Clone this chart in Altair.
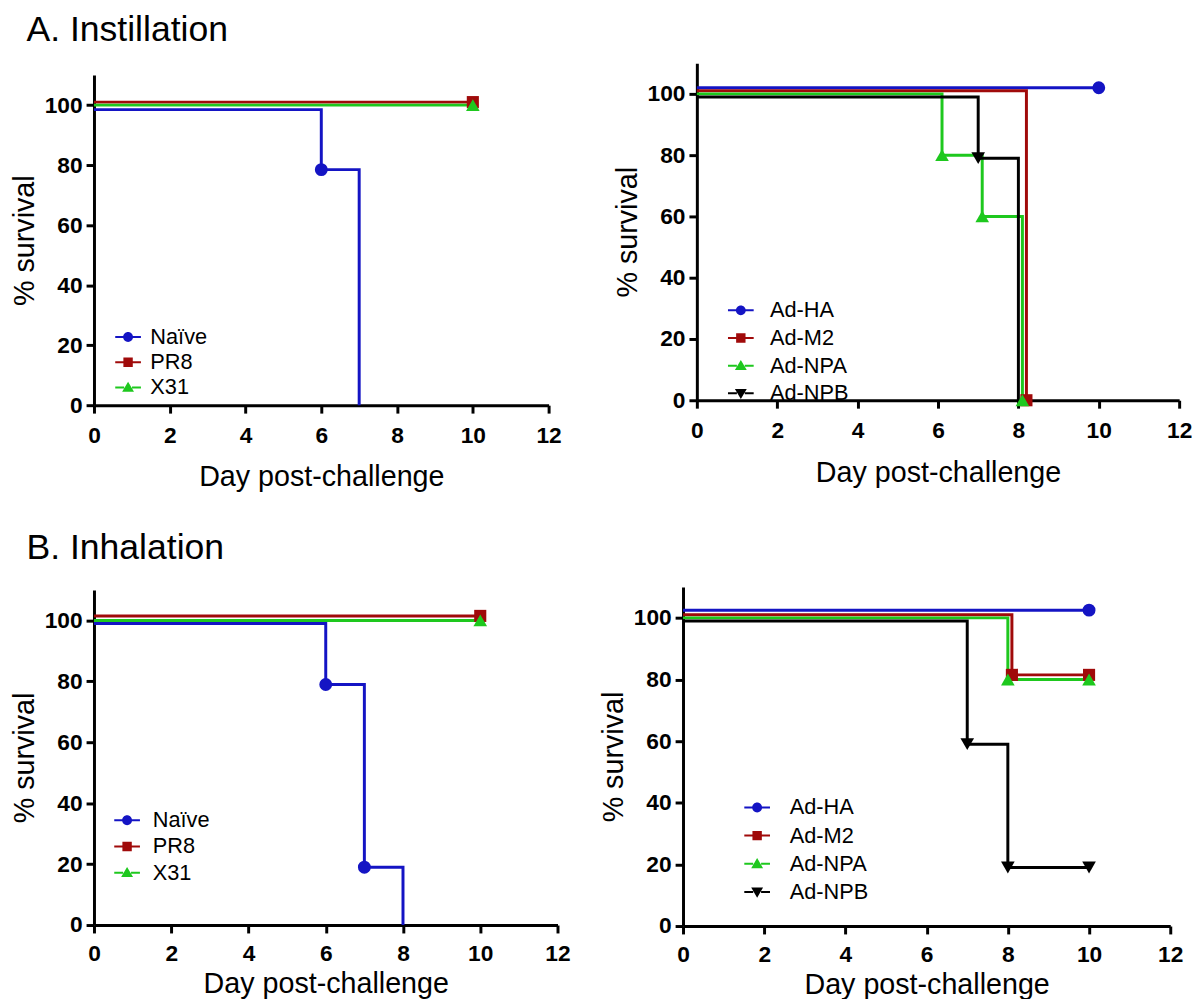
import altair as alt
import pandas as pd

# ---------------- data ----------------
# A. Instillation, left panel
inst_left_groups = ["Naïve", "PR8", "X31"]
inst_naive_x = [0, 6, 7]
inst_naive_y = [98.5, 78.5, 0]
inst_naive_mx = [6]
inst_naive_my = [78.5]
inst_pr8_x = [0, 10]
inst_pr8_y = [101, 101]
inst_pr8_mx = [10]
inst_pr8_my = [101]
inst_x31_x = [0, 10]
inst_x31_y = [100, 100]
inst_x31_mx = [10]
inst_x31_my = [100]

# A. Instillation, right panel
inst_right_groups = ["Ad-HA", "Ad-M2", "Ad-NPA", "Ad-NPB"]
inst_ha_x = [0, 10]
inst_ha_y = [102, 102]
inst_ha_mx = [10]
inst_ha_my = [102]
inst_m2_x = [0, 8.2]
inst_m2_y = [101, 0]
inst_m2_mx = [8.2]
inst_m2_my = [0]
inst_npa_x = [0, 6.1, 7.1, 8.1]
inst_npa_y = [100, 80, 60, 0]
inst_npa_mx = [6.1, 7.1, 8.1]
inst_npa_my = [80, 60, 0]
inst_npb_x = [0, 7.0, 8.0]
inst_npb_y = [99, 79, 0]
inst_npb_mx = [7.0]
inst_npb_my = [79]

# B. Inhalation, left panel
inh_naive_x = [0, 6, 7, 8]
inh_naive_y = [99, 79, 19, 0]
inh_naive_mx = [6, 7]
inh_naive_my = [79, 19]
inh_pr8_x = [0, 10]
inh_pr8_y = [101.5, 101.5]
inh_pr8_mx = [10]
inh_pr8_my = [101.5]
inh_x31_x = [0, 10]
inh_x31_y = [100, 100]
inh_x31_mx = [10]
inh_x31_my = [100]

# B. Inhalation, right panel
inh_ha_x = [0, 10]
inh_ha_y = [102.5, 102.5]
inh_ha_mx = [10]
inh_ha_my = [102.5]
inh_m2_x = [0, 8.1, 10]
inh_m2_y = [101, 81.5, 81.5]
inh_m2_mx = [8.1, 10]
inh_m2_my = [81.5, 81.5]
inh_npa_x = [0, 8.0, 10]
inh_npa_y = [100, 80, 80]
inh_npa_mx = [8.0, 10]
inh_npa_my = [80, 80]
inh_npb_x = [0, 7, 8, 10]
inh_npb_y = [99, 59, 19, 19]
inh_npb_mx = [7, 8, 10]
inh_npb_my = [59, 19, 19]

x_ticks = [0, 2, 4, 6, 8, 10, 12]
y_ticks = [0, 20, 40, 60, 80, 100]

BLUE = "#1414c4"
RED = "#a00a0a"
GREEN = "#1ec81e"
BLACK = "#000000"
FONT = "Liberation Sans"

left_colors = [BLUE, RED, GREEN]
right_colors = [BLUE, RED, GREEN, BLACK]
left_shapes = ["circle", "square", "triangle-up"]
right_shapes = ["circle", "square", "triangle-up", "triangle-down"]
marker_sizes = {"circle": 170, "square": 150, "triangle-up": 190, "triangle-down": 190}

# legend symbol paths: short line with the marker in the middle
_LINE = "M-2.6,-0.2H-0.8V0.2H-2.6Z M0.8,-0.2H2.6V0.2H0.8Z "
LEG_PATHS = {
    "circle": _LINE + "M1,0A1,1,0,1,1,-1,0A1,1,0,1,1,1,0Z",
    "square": _LINE + "M-0.95,-0.95H0.95V0.95H-0.95Z",
    "triangle-up": _LINE + "M0,-1.15L1.2,0.9H-1.2Z",
    "triangle-down": _LINE + "M0,1.15L1.2,-0.9H-1.2Z",
}


def build_frames(groups, series):
    lines, pts = [], []
    for g, (xs, ys, mxs, mys) in zip(groups, series):
        for i, (xv, yv) in enumerate(zip(xs, ys)):
            lines.append({"group": g, "i": i, "day": xv, "surv": yv})
        for xv, yv in zip(mxs, mys):
            pts.append({"group": g, "day": xv, "surv": yv})
    return pd.DataFrame(lines), pd.DataFrame(pts)


def panel(groups, series, colors, shapes, width, height, leg_x, leg_y, row_pad,
          label_off, x_lpad, x_tpad):
    df_l, df_p = build_frames(groups, series)
    cscale = alt.Scale(domain=groups, range=colors)
    legend = alt.Legend(
        orient="none", legendX=leg_x, legendY=leg_y, title=None,
        labelFont=FONT, labelFontSize=22, labelColor="black",
        symbolSize=100, labelOffset=label_off, rowPadding=row_pad,
        symbolOpacity=1, symbolStrokeWidth=0,
    )
    x = alt.X("day:Q", scale=alt.Scale(domain=[0, 12], nice=False),
              axis=alt.Axis(values=x_ticks, title="Day post-challenge",
                            labelPadding=x_lpad, titlePadding=x_tpad,
                            labelFlush=False))
    y = alt.Y("surv:Q", scale=alt.Scale(domain=[0, 110], nice=False),
              axis=alt.Axis(values=y_ticks, title="% survival",
                            labelPadding=4, titlePadding=5))
    # invisible layer that only carries the legend (line + marker symbols)
    leg_layer = alt.Chart(df_p).mark_point(filled=True, opacity=0, size=100).encode(
        x=x, y=y,
        color=alt.Color("group:N", scale=cscale, legend=legend),
        shape=alt.Shape("group:N",
                        scale=alt.Scale(domain=groups,
                                        range=[LEG_PATHS[s] for s in shapes]),
                        legend=legend),
    )
    layers = [leg_layer]
    line = alt.Chart(df_l).mark_line(interpolate="step-after", strokeWidth=3).encode(
        x=x, y=y,
        color=alt.Color("group:N", scale=cscale, legend=None),
        order="i:Q",
    )
    layers.append(line)
    for g, s in zip(groups, shapes):
        sub = df_p[df_p["group"] == g]
        if len(sub) == 0:
            continue
        layers.append(
            alt.Chart(sub).mark_point(filled=True, opacity=1, shape=s,
                                      size=marker_sizes[s]).encode(
                x=x, y=y,
                color=alt.Color("group:N", scale=cscale, legend=None),
            )
        )
    return alt.layer(*layers).properties(width=width, height=height)


def spacer(width, height):
    return alt.Chart(pd.DataFrame({"s": [0]})).mark_point(opacity=0, size=1).properties(
        width=width, height=height)


tl = panel(inst_left_groups,
           [(inst_naive_x, inst_naive_y, inst_naive_mx, inst_naive_my),
            (inst_pr8_x, inst_pr8_y, inst_pr8_mx, inst_pr8_my),
            (inst_x31_x, inst_x31_y, inst_x31_mx, inst_x31_my)],
           left_colors, left_shapes, 460, 334, 23.5, 266, 3.5, 11.5, 12, 15)

tr = panel(inst_right_groups,
           [(inst_ha_x, inst_ha_y, inst_ha_mx, inst_ha_my),
            (inst_m2_x, inst_m2_y, inst_m2_mx, inst_m2_my),
            (inst_npa_x, inst_npa_y, inst_npa_mx, inst_npa_my),
            (inst_npb_x, inst_npb_y, inst_npb_mx, inst_npb_my)],
           right_colors, right_shapes, 488, 341, 33.5, 239, 6, 18.5, 12, 16)

bl = panel(inst_left_groups,
           [(inh_naive_x, inh_naive_y, inh_naive_mx, inh_naive_my),
            (inh_pr8_x, inh_pr8_y, inh_pr8_mx, inh_pr8_my),
            (inh_x31_x, inh_x31_y, inh_x31_mx, inh_x31_my)],
           left_colors, left_shapes, 469, 339, 22.5, 225, 4.5, 15, 10, 4)

br = panel(inst_right_groups,
           [(inh_ha_x, inh_ha_y, inh_ha_mx, inh_ha_my),
            (inh_m2_x, inh_m2_y, inh_m2_mx, inh_m2_my),
            (inh_npa_x, inh_npa_y, inh_npa_mx, inh_npa_my),
            (inh_npb_x, inh_npb_y, inh_npb_mx, inh_npb_my)],
           right_colors, right_shapes, 493, 343, 64, 212, 6.5, 22, 10, 4)

row_title = dict(anchor="start", fontSize=36, font=FONT, fontWeight="normal",
                 color="black", dx=16)

left1 = alt.vconcat(spacer(460, 12), tl, spacing=0)
left2 = alt.vconcat(spacer(469, 3), bl, spacing=0)

row1 = alt.hconcat(left1, tr, spacing=52,
                   title=alt.TitleParams("A. Instillation", offset=15, **row_title)
                   ).resolve_scale(color="independent", shape="independent")
row2 = alt.hconcat(left2, br, spacing=29,
                   title=alt.TitleParams("B. Inhalation", offset=20, **row_title)
                   ).resolve_scale(color="independent", shape="independent")

chart = alt.vconcat(row1, row2, spacing=40).resolve_scale(
    color="independent", shape="independent"
).properties(
    padding={"left": 2, "top": -2, "right": 0, "bottom": 0}
).configure_view(stroke=None).configure_axis(
    grid=False, domainColor="black", domainWidth=3, tickColor="black",
    tickWidth=3, tickSize=8, labelFont=FONT, labelFontWeight="bold",
    labelFontSize=23, labelColor="black", titleFont=FONT, titleFontSize=29,
    titleFontWeight="normal", titleColor="black", labelOverlap=False,
).configure_title(font=FONT)

chart.save("out.html", embed_options={"renderer": "svg", "actions": False})
